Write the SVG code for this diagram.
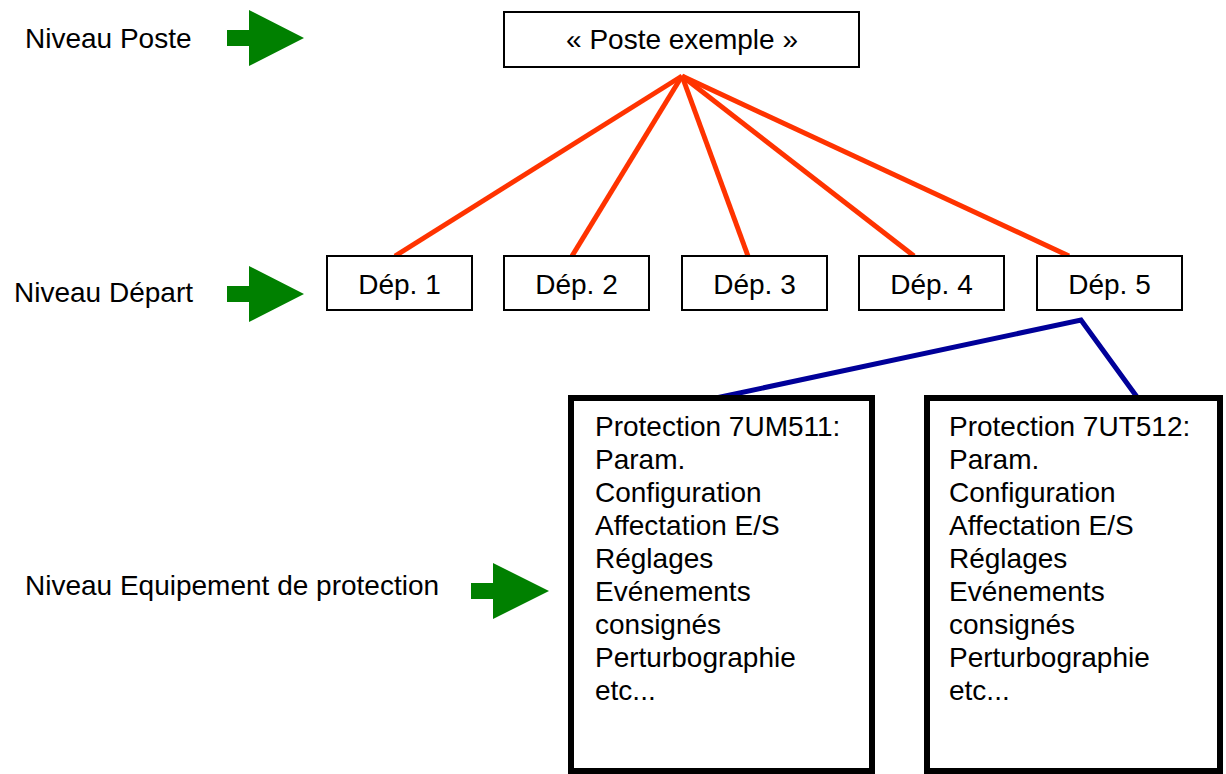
<svg xmlns="http://www.w3.org/2000/svg" width="1226" height="774" viewBox="0 0 1226 774">
<style>
text{font-family:"Liberation Sans",Arial,sans-serif;font-size:28px;fill:#000}
.c{text-anchor:middle}
.box{fill:#fff;stroke:#000;stroke-width:2}
.big{fill:#fff;stroke:#000;stroke-width:6}
.red{stroke:#ff3300;stroke-width:5;fill:none}
.blue{stroke:#000099;stroke-width:5;fill:none}
.arrow{fill:#008000}
</style>
<rect width="1226" height="774" fill="#fff"/>
<g id="labels">
<text x="25" y="48">Niveau Poste</text>
<text x="14" y="302">Niveau Départ</text>
<text x="25" y="595">Niveau Equipement de protection</text>
</g>
<g id="arrows">
<polygon class="arrow" points="227,30 249,30 249,10 304,38 249,66 249,46 227,46"/>
<polygon class="arrow" points="227,286 249,286 249,266 304,294 249,322 249,302 227,302"/>
<polygon class="arrow" points="471,583 493,583 493,563 549,591 493,619 493,599 471,599"/>
</g>
<g id="connectors">
<line class="red" x1="682" y1="76" x2="395" y2="256"/>
<line class="red" x1="682" y1="76" x2="572" y2="256"/>
<line class="red" x1="682" y1="76" x2="748" y2="256"/>
<line class="red" x1="682" y1="76" x2="914" y2="256"/>
<line class="red" x1="682" y1="76" x2="1069" y2="256"/>
<polyline class="blue" points="716,398 1081,320 1137,397"/>
</g>
<g id="poste">
<rect class="box" x="504" y="12" width="355" height="55"/>
<text class="c" x="682" y="49">« Poste exemple »</text>
</g>
<g id="dep1"><rect class="box" x="327" y="256" width="145" height="54"/><text class="c" x="399.5" y="294">Dép. 1</text></g>
<g id="dep2"><rect class="box" x="504" y="256" width="145" height="54"/><text class="c" x="576.5" y="294">Dép. 2</text></g>
<g id="dep3"><rect class="box" x="682" y="256" width="145" height="54"/><text class="c" x="754.5" y="294">Dép. 3</text></g>
<g id="dep4"><rect class="box" x="859" y="256" width="145" height="54"/><text class="c" x="931.5" y="294">Dép. 4</text></g>
<g id="dep5"><rect class="box" x="1037" y="256" width="145" height="54"/><text class="c" x="1109.5" y="294">Dép. 5</text></g>
<g id="prot1">
<rect class="big" x="571" y="398" width="301" height="373"/>
<text x="595" y="436">Protection 7UM511:</text>
<text x="595" y="469">Param.</text>
<text x="595" y="502">Configuration</text>
<text x="595" y="535">Affectation E/S</text>
<text x="595" y="568">Réglages</text>
<text x="595" y="601">Evénements</text>
<text x="595" y="634">consignés</text>
<text x="595" y="667">Perturbographie</text>
<text x="595" y="700">etc...</text>
</g>
<g id="prot2">
<rect class="big" x="927" y="398" width="293" height="373"/>
<text x="949" y="436">Protection 7UT512:</text>
<text x="949" y="469">Param.</text>
<text x="949" y="502">Configuration</text>
<text x="949" y="535">Affectation E/S</text>
<text x="949" y="568">Réglages</text>
<text x="949" y="601">Evénements</text>
<text x="949" y="634">consignés</text>
<text x="949" y="667">Perturbographie</text>
<text x="949" y="700">etc...</text>
</g>
</svg>
